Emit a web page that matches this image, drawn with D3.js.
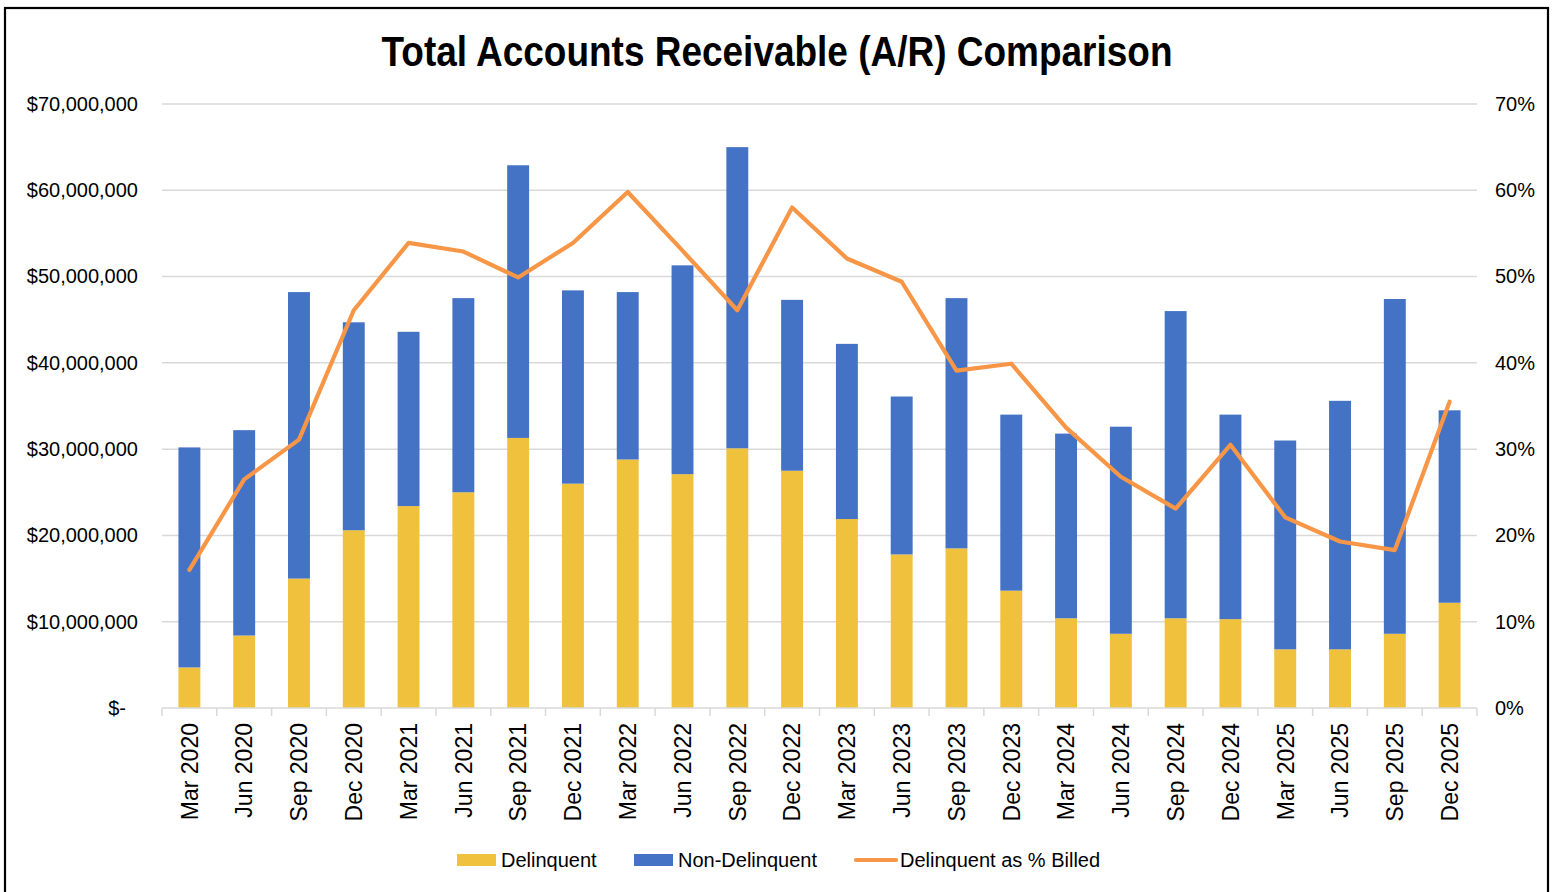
<!DOCTYPE html>
<html>
<head>
<meta charset="utf-8">
<script src="https://cdn.jsdelivr.net/npm/d3@7"></script>
<style>
  html, body { margin: 0; padding: 0; background: #fff; }
  svg { display: block; }
  text { font-family: "Liberation Sans", Arial, sans-serif; fill: #000; }
</style>
</head>
<body>
<svg id="chart" width="1552" height="892"></svg>
<script>
const categories = ["Mar 2020","Jun 2020","Sep 2020","Dec 2020","Mar 2021","Jun 2021","Sep 2021","Dec 2021",
  "Mar 2022","Jun 2022","Sep 2022","Dec 2022","Mar 2023","Jun 2023","Sep 2023","Dec 2023",
  "Mar 2024","Jun 2024","Sep 2024","Dec 2024","Mar 2025","Jun 2025","Sep 2025","Dec 2025"];
const delinquent = [4700000, 8400000, 15000000, 20600000, 23400000, 25000000, 31300000, 26000000,
  28800000, 27100000, 30100000, 27500000, 21900000, 17800000, 18500000, 13600000,
  10400000, 8600000, 10400000, 10300000, 6800000, 6800000, 8600000, 12200000];
const nonDelinquent = [25500000, 23800000, 33200000, 24100000, 20200000, 22500000, 31600000, 22400000,
  19400000, 24200000, 34900000, 19800000, 20300000, 18300000, 29000000, 20400000,
  21400000, 24000000, 35600000, 23700000, 24200000, 28800000, 38800000, 22300000];
const pctBilled = [16.0, 26.5, 31.1, 46.1, 53.9, 52.9, 49.9, 53.9, 59.8, 53.0, 46.1, 58.0,
  52.1, 49.4, 39.1, 39.9, 32.5, 26.8, 23.1, 30.5, 22.1, 19.3, 18.3, 35.5];
const leftTicks = [0, 10000000, 20000000, 30000000, 40000000, 50000000, 60000000, 70000000];
const rightTicks = [0, 10, 20, 30, 40, 50, 60, 70];
const seriesNames = ["Delinquent", "Non-Delinquent", "Delinquent as % Billed"];
const titleText = "Total Accounts Receivable (A/R) Comparison";

const colors = { del: "#F0C13C", non: "#4472C4", line: "#F79646", grid: "#D9D9D9" };
const svg = d3.select("#chart");
const plotLeft = 162, plotRight = 1477, plotTop = 104, plotBottom = 708;

// frame
svg.append("rect").attr("x", 5).attr("y", 8).attr("width", 1543).attr("height", 900)
  .attr("fill", "none").attr("stroke", "#000").attr("stroke-width", 2.2);

// title
svg.append("text").attr("x", 381.5).attr("y", 65.5)
  .attr("font-size", 42).attr("font-weight", "bold")
  .attr("textLength", 791).attr("lengthAdjust", "spacingAndGlyphs")
  .text(titleText);

const x = d3.scaleBand().domain(categories).range([plotLeft, plotRight]).paddingInner(0.6).paddingOuter(0.3);
const y = d3.scaleLinear().domain([0, 70000000]).range([plotBottom, plotTop]);
const y2 = d3.scaleLinear().domain([0, 70]).range([plotBottom, plotTop]);
const step = x.step();

// gridlines
svg.append("g").selectAll("line").data(leftTicks.slice(1)).join("line")
  .attr("x1", plotLeft).attr("x2", plotRight)
  .attr("y1", d => y(d)).attr("y2", d => y(d))
  .attr("stroke", colors.grid).attr("stroke-width", 1.5);

// left axis
const leftAxis = svg.append("g").attr("transform", `translate(${plotLeft},0)`)
  .call(d3.axisLeft(y).tickValues(leftTicks).tickSize(0).tickPadding(24)
    .tickFormat(d => d === 0 ? "$-" : "$" + d3.format(",")(d)));
leftAxis.select(".domain").remove();
leftAxis.selectAll("text").attr("font-size", 20).attr("fill", "#000")
  .style("font-family", '"Liberation Sans", Arial, sans-serif')
  .attr("dx", d => d === 0 ? -12 : 0);

// right axis
const rightAxis = svg.append("g").attr("transform", `translate(${plotRight},0)`)
  .call(d3.axisRight(y2).tickValues(rightTicks).tickSize(0).tickPadding(18)
    .tickFormat(d => d + "%"));
rightAxis.select(".domain").remove();
rightAxis.selectAll("text").attr("font-size", 20).attr("fill", "#000")
  .style("font-family", '"Liberation Sans", Arial, sans-serif');

// stacked bars
const stackData = categories.map((c, i) => ({ cat: c, del: delinquent[i], non: nonDelinquent[i] }));
const stacked = d3.stack().keys(["del", "non"])(stackData);
const barColors = { del: colors.del, non: colors.non };
svg.append("g").selectAll("g").data(stacked).join("g")
  .attr("fill", s => barColors[s.key])
  .selectAll("rect").data(s => s).join("rect")
  .attr("x", d => x(d.data.cat)).attr("width", x.bandwidth())
  .attr("y", d => y(d[1])).attr("height", d => y(d[0]) - y(d[1]));

// x axis baseline and ticks
svg.append("line").attr("x1", plotLeft).attr("x2", plotRight).attr("y1", plotBottom).attr("y2", plotBottom)
  .attr("stroke", colors.grid).attr("stroke-width", 1.5);
svg.append("g").selectAll("line").data(d3.range(categories.length + 1)).join("line")
  .attr("x1", i => plotLeft + i * step).attr("x2", i => plotLeft + i * step)
  .attr("y1", plotBottom).attr("y2", plotBottom + 8)
  .attr("stroke", colors.grid).attr("stroke-width", 1.5);

// x labels
svg.append("g").selectAll("text").data(categories).join("text")
  .attr("transform", d => `translate(${x(d) + x.bandwidth() / 2},723) rotate(-90)`)
  .attr("text-anchor", "end").attr("dy", "0.36em")
  .attr("font-size", 23).text(d => d);

// line
const line = d3.line().x((d, i) => x(categories[i]) + x.bandwidth() / 2).y(d => y2(d));
svg.append("path").datum(pctBilled).attr("d", line)
  .attr("fill", "none").attr("stroke", colors.line).attr("stroke-width", 4.2)
  .attr("stroke-linejoin", "round").attr("stroke-linecap", "round");

// legend
const lg = svg.append("g");
lg.append("rect").attr("x", 457).attr("y", 854).attr("width", 39).attr("height", 12).attr("fill", colors.del);
lg.append("text").attr("x", 501).attr("y", 860).attr("dy", "0.35em").attr("font-size", 20).text(seriesNames[0]);
lg.append("rect").attr("x", 634).attr("y", 854).attr("width", 39).attr("height", 12).attr("fill", colors.non);
lg.append("text").attr("x", 678).attr("y", 860).attr("dy", "0.35em").attr("font-size", 20).text(seriesNames[1]);
lg.append("line").attr("x1", 856).attr("x2", 896).attr("y1", 860).attr("y2", 860)
  .attr("stroke", colors.line).attr("stroke-width", 4.2).attr("stroke-linecap", "round");
lg.append("text").attr("x", 900).attr("y", 860).attr("dy", "0.35em").attr("font-size", 20).text(seriesNames[2]);
</script>
</body>
</html>
